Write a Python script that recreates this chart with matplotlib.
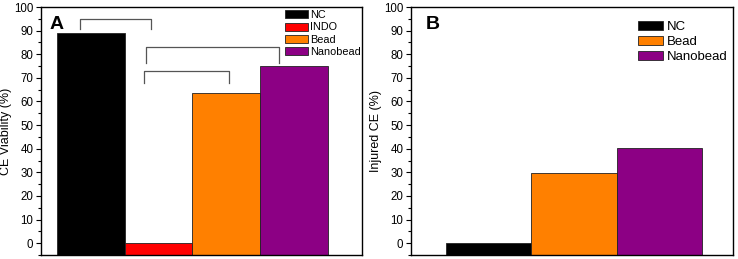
import matplotlib
matplotlib.use("Agg")
import matplotlib.pyplot as plt
from matplotlib.ticker import MultipleLocator

plt.rcParams['font.family'] = ['Liberation Sans', 'DejaVu Sans']

# panel A data
groups_a = ['NC', 'INDO', 'Bead', 'Nanobead']
viability = [88.8, 0.2, 63.5, 75.0]
colors_a = ['#000000', '#ff0000', '#ff8000', '#8c0084']

# panel B data
groups_b = ['NC', 'Bead', 'Nanobead']
injured = [0.1, 29.9, 40.1]
colors_b = ['#000000', '#ff8000', '#8c0084']

# significance brackets (x0, x1, y_top, y_leg)
brackets = [(0.85, 1.89, 94.9, 90.6),
            (1.81, 3.77, 83.2, 76.2),
            (1.79, 3.04, 72.8, 68.0)]

ymin = -5
fig = plt.figure(figsize=(7.38, 2.59), dpi=100)
ax1 = fig.add_axes([0.0556, 0.0154, 0.435, 0.9575])
ax2 = fig.add_axes([0.557, 0.0154, 0.436, 0.9575])


def style(ax, ylabel):
    ax.set_ylim(ymin, 100)
    ax.yaxis.set_major_locator(MultipleLocator(10))
    ax.yaxis.set_minor_locator(MultipleLocator(5))
    ax.set_yticks(range(0, 101, 10))
    ax.tick_params(axis='y', which='major', direction='out', length=3.5, width=0.8, labelsize=8.3, pad=2)
    ax.tick_params(axis='y', which='minor', direction='out', length=2, width=0.8)
    ax.set_xticks([])
    for s in ax.spines.values():
        s.set_linewidth(1.0)
    ax.set_ylabel(ylabel, fontsize=9, labelpad=1.5)


for i, (g, v, c) in enumerate(zip(groups_a, viability, colors_a)):
    ax1.bar(i + 1, v - ymin, bottom=ymin, width=1.0, color=c, edgecolor='#222222', linewidth=0.6, label=g)
ax1.set_xlim(0.27, 5.0)
style(ax1, 'CE Viability (%)')
for x0, x1, yt, yl in brackets:
    ax1.plot([x0, x0, x1, x1], [yl, yt, yt, yl], color='#555555', lw=0.9)
ax1.text(0.027, 0.93, 'A', transform=ax1.transAxes, fontsize=14, fontweight='bold', va='center')
ax1.legend(loc='upper left', bbox_to_anchor=(0.76, 0.988), frameon=False, fontsize=7.8,
           borderpad=0, borderaxespad=0, handlelength=2.1, handleheight=0.75,
           labelspacing=0.22, handletextpad=0.25)

for i, (g, v, c) in enumerate(zip(groups_b, injured, colors_b)):
    ax2.bar(i + 1, v - ymin, bottom=ymin, width=1.0, color=c, edgecolor='#222222', linewidth=0.6, label=g)
ax2.set_xlim(0.09, 3.86)
style(ax2, 'Injured CE (%)')
ax2.text(0.045, 0.93, 'B', transform=ax2.transAxes, fontsize=14, fontweight='bold', va='center')
ax2.legend(loc='upper left', bbox_to_anchor=(0.704, 0.945), frameon=False, fontsize=9.5,
           borderpad=0, borderaxespad=0, handlelength=1.95, handleheight=0.75,
           labelspacing=0.2, handletextpad=0.3)

fig.savefig('out.png', dpi=100)
